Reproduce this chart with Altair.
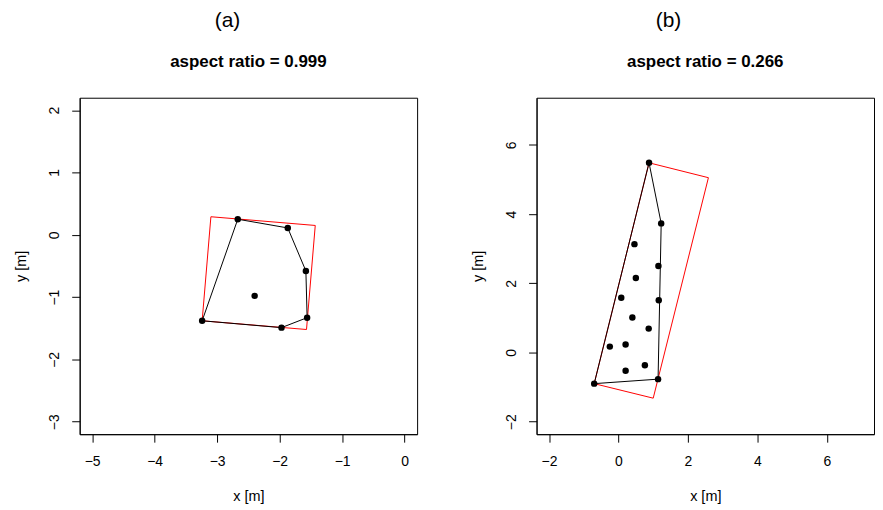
import altair as alt
import pandas as pd

# ---- data ----
# panel (a)
a_px = [-2.67, -1.87, -1.58, -1.56, -1.97, -3.24, -2.40]
a_py = [0.25, 0.11, -0.58, -1.33, -1.49, -1.38, -0.98]
a_hull_x = [-3.24, -2.67, -1.87, -1.58, -1.56, -1.97, -3.24]
a_hull_y = [-1.38, 0.25, 0.11, -0.58, -1.33, -1.49, -1.38]
a_rect_x = [-3.24, -3.10, -1.43, -1.57, -3.24]
a_rect_y = [-1.38, 0.29, 0.15, -1.52, -1.38]

# panel (b)
b_px = [0.88, 1.23, 0.46, 1.15, 0.50, 0.08, 1.16, 0.40, 0.87, -0.25, 0.205, 0.205, 0.76, 1.14, -0.70]
b_py = [5.48, 3.73, 3.13, 2.50, 2.15, 1.58, 1.51, 1.01, 0.69, 0.17, 0.23, -0.525, -0.37, -0.77, -0.90]
b_hull_x = [-0.70, 0.88, 1.23, 1.14, -0.70]
b_hull_y = [-0.90, 5.48, 3.73, -0.77, -0.90]
b_rect_x = [0.88, 2.59, 1.00, -0.70, 0.88]
b_rect_y = [5.48, 5.05, -1.32, -0.90, 5.48]

a_xticks = [-5, -4, -3, -2, -1, 0]
a_yticks = [-3, -2, -1, 0, 1, 2]
b_ticks = [-2, 0, 2, 4, 6]

FONT = "Liberation Sans"


def panel(px, py, hx, hy, rx, ry, xdom, ydom, xticks, yticks, subtitle):
    pts = pd.DataFrame({"x": px, "y": py})
    hull = pd.DataFrame({"x": hx, "y": hy, "i": list(range(len(hx)))})
    rect = pd.DataFrame({"x": rx, "y": ry, "i": list(range(len(rx)))})

    xenc = alt.X("x:Q", scale=alt.Scale(domain=xdom, nice=False, zero=False),
                 axis=alt.Axis(values=xticks, title="x [m]", format="d"))
    yenc = alt.Y("y:Q", scale=alt.Scale(domain=ydom, nice=False, zero=False),
                 axis=alt.Axis(values=yticks, title="y [m]", format="d",
                               labelAngle=270, labelAlign="center", labelBaseline="bottom"))

    r = alt.Chart(rect).mark_line(color="#FF0000", strokeWidth=1).encode(
        x=xenc, y=yenc, order="i:Q")
    h = alt.Chart(hull).mark_line(color="black", strokeWidth=1).encode(
        x=xenc, y=yenc, order="i:Q")
    p = alt.Chart(pts).mark_circle(color="black", opacity=1, size=42).encode(
        x=xenc, y=yenc)
    return alt.layer(r, h, p).properties(
        width=339, height=338,
        title=alt.TitleParams(subtitle, fontWeight="bold", fontSize=17,
                              font=FONT, offset=27, anchor="middle", frame="group"),
    )


pa = panel(a_px, a_py, a_hull_x, a_hull_y, a_rect_x, a_rect_y,
           [-5.2, 0.2], [-3.2, 2.2], a_xticks, a_yticks, "aspect ratio = 0.999")
pb = panel(b_px, b_py, b_hull_x, b_hull_y, b_rect_x, b_rect_y,
           [-2.36, 7.36], [-2.36, 7.36], b_ticks, b_ticks, "aspect ratio = 0.266")

wa = alt.vconcat(pa).properties(
    title=alt.TitleParams("(a)", fontSize=21, fontWeight="normal", font=FONT,
                          anchor="middle", dx=12, offset=22))
wb = alt.vconcat(pb).properties(
    title=alt.TitleParams("(b)", fontSize=21, fontWeight="normal", font=FONT,
                          anchor="middle", dx=-4, offset=22))

chart = alt.hconcat(wa, wb, spacing=52).properties(
    padding={"left": 5, "top": 0, "right": 0, "bottom": 0}
).configure_view(
    stroke="black", strokeWidth=1
).configure_axis(
    grid=False, domain=True, domainColor="black", tickColor="black",
    tickSize=8, labelPadding=10, labelFontSize=14, titleFontSize=14.5,
    labelFont=FONT, titleFont=FONT, labelColor="black", titleColor="black",
    titleFontWeight="normal", titlePadding=19, labelFlush=False,
).configure_axisX(labelPadding=12, titlePadding=22).configure_concat(spacing=50)

chart.save("out.html", embed_options={"renderer": "svg", "actions": False})
